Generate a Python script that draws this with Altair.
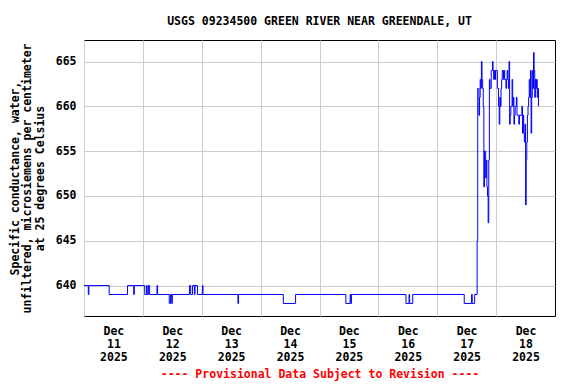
import altair as alt
import pandas as pd

# Change points of the 15-minute series (value holds until the next time)
times = [
    "2025-12-11T00:00", "2025-12-11T01:45", "2025-12-11T02:00", "2025-12-11T10:15",
    "2025-12-11T17:45", "2025-12-11T20:15", "2025-12-11T20:30",
    "2025-12-12T00:45", "2025-12-12T01:30", "2025-12-12T01:45", "2025-12-12T02:15",
    "2025-12-12T02:45", "2025-12-12T05:45", "2025-12-12T06:00", "2025-12-12T10:45",
    "2025-12-12T11:15", "2025-12-12T11:45", "2025-12-12T12:00", "2025-12-12T19:00",
    "2025-12-12T19:30", "2025-12-12T20:15", "2025-12-12T21:00", "2025-12-12T21:15",
    "2025-12-12T22:15", "2025-12-13T00:15", "2025-12-13T00:30", "2025-12-13T14:45",
    "2025-12-13T15:00", "2025-12-14T09:15", "2025-12-14T14:15", "2025-12-15T10:45",
    "2025-12-15T12:30", "2025-12-15T12:45", "2025-12-15T13:00", "2025-12-16T11:15",
    "2025-12-16T12:30", "2025-12-16T12:45", "2025-12-16T14:00", "2025-12-17T11:00",
    "2025-12-17T14:00", "2025-12-17T14:15", "2025-12-17T15:15", "2025-12-17T16:15",
    "2025-12-17T16:30", "2025-12-17T17:00", "2025-12-17T17:15", "2025-12-17T17:30",
    "2025-12-17T17:45", "2025-12-17T18:00", "2025-12-17T18:15", "2025-12-17T18:30",
    "2025-12-17T18:45", "2025-12-17T19:00", "2025-12-17T19:15", "2025-12-17T19:45",
    "2025-12-17T20:00", "2025-12-17T20:15", "2025-12-17T20:30", "2025-12-17T20:45",
    "2025-12-17T21:00", "2025-12-17T21:15", "2025-12-17T21:30", "2025-12-17T22:00",
    "2025-12-17T22:30", "2025-12-17T22:45", "2025-12-17T23:00", "2025-12-17T23:15",
    "2025-12-17T23:30", "2025-12-17T23:45", "2025-12-18T00:30", "2025-12-18T01:00",
    "2025-12-18T01:15", "2025-12-18T01:30", "2025-12-18T01:45", "2025-12-18T02:00",
    "2025-12-18T02:15", "2025-12-18T02:30", "2025-12-18T03:00", "2025-12-18T03:15",
    "2025-12-18T03:30", "2025-12-18T04:00", "2025-12-18T04:15", "2025-12-18T04:30",
    "2025-12-18T04:45", "2025-12-18T05:00", "2025-12-18T05:15", "2025-12-18T05:30",
    "2025-12-18T05:45", "2025-12-18T06:00", "2025-12-18T06:30", "2025-12-18T06:45",
    "2025-12-18T07:00", "2025-12-18T07:15", "2025-12-18T07:30", "2025-12-18T07:45",
    "2025-12-18T08:15", "2025-12-18T08:30", "2025-12-18T09:15", "2025-12-18T09:30",
    "2025-12-18T10:30", "2025-12-18T10:45", "2025-12-18T11:00", "2025-12-18T11:15",
    "2025-12-18T11:30", "2025-12-18T11:45", "2025-12-18T12:00", "2025-12-18T12:15",
    "2025-12-18T12:30", "2025-12-18T12:45", "2025-12-18T13:00", "2025-12-18T13:15",
    "2025-12-18T13:30", "2025-12-18T13:45", "2025-12-18T14:00", "2025-12-18T14:15",
    "2025-12-18T14:30", "2025-12-18T14:45", "2025-12-18T15:00", "2025-12-18T15:15",
    "2025-12-18T15:30", "2025-12-18T15:45", "2025-12-18T16:00", "2025-12-18T16:15",
    "2025-12-18T16:30", "2025-12-18T16:45", "2025-12-18T17:00", "2025-12-18T17:15",
]
values = [
    640, 639, 640, 639,
    640, 639, 640,
    639, 640, 639, 640,
    639, 640, 639, 638,
    639, 638, 639, 640,
    639, 640, 639, 640,
    639, 640, 639, 638,
    639, 638, 639, 638,
    639, 638, 639, 638,
    639, 638, 639, 638,
    639, 638, 639, 645,
    662, 659, 661, 663,
    662, 665, 663, 662,
    660, 651, 655, 652,
    654, 651, 650, 647,
    654, 663, 662, 664,
    665, 664, 663, 664,
    663, 664, 662, 660,
    658, 661, 660, 662,
    663, 664, 663, 664,
    663, 662, 663, 664,
    663, 662, 665, 658,
    659, 660, 663, 660,
    661, 658, 659, 660,
    661, 659, 658, 659,
    660, 657, 659, 657,
    656, 658, 649, 654,
    656, 659, 660, 661,
    663, 661, 664, 657,
    661, 664, 662, 666,
    664, 661, 663, 662,
    663, 661, 662, 660,
]

y_ticks = [640, 645, 650, 655, 660, 665]
day_dates = [11, 12, 13, 14, 15, 16, 17, 18]

title_text = "USGS 09234500 GREEN RIVER NEAR GREENDALE, UT"
y_title = [
    "Specific conductance, water,",
    "unfiltered, microsiemens per centimeter",
    "at 25 degrees Celsius",
]
x_title = "---- Provisional Data Subject to Revision ----"

df = pd.DataFrame({"time": times, "value": values})

FONT = "DejaVu Sans Mono"
FS = 11.5

x_axis = alt.Axis(
    values=[alt.DateTime(year=2025, month=12, date=d) for d in day_dates],
    labelExpr="[timeFormat(datum.value, '%b'), timeFormat(datum.value, '%d'), timeFormat(datum.value, '%Y')]",
    labelOffset=29.4,
    labelFlush=False,
    labelOverlap=False,
    labelPadding=9,
    labelLineHeight=13,
    labelFont=FONT,
    labelFontSize=FS,
    labelFontWeight="bold",
    labelColor="black",
    ticks=False,
    domain=False,
    grid=True,
    gridColor="#cccccc",
    gridWidth=1,
    title=x_title,
    titleColor="red",
    titleFont=FONT,
    titleFontSize=FS,
    titleFontWeight="bold",
    titlePadding=6,
)

y_axis = alt.Axis(
    values=y_ticks,
    labelFont=FONT,
    labelFontSize=FS,
    labelFontWeight="bold",
    labelColor="black",
    labelPadding=8,
    ticks=False,
    domain=False,
    grid=True,
    gridColor="#cccccc",
    gridWidth=1,
    title=y_title,
    titleFont=FONT,
    titleFontSize=FS,
    titleFontWeight="bold",
    titleColor="black",
    titleLineHeight=12.5,
    titlePadding=10,
)

chart = (
    alt.Chart(df)
    .mark_line(interpolate="step-after", color="#0000ff", strokeWidth=1, clip=True)
    .encode(
        x=alt.X(
            "time:T",
            scale=alt.Scale(
                domain=[
                    alt.DateTime(year=2025, month=12, date=11),
                    alt.DateTime(year=2025, month=12, date=19),
                ]
            ),
            axis=x_axis,
        ),
        y=alt.Y(
            "value:Q",
            scale=alt.Scale(domain=[636.6, 667.4], nice=False, zero=False),
            axis=y_axis,
        ),
    )
    .properties(
        width=471,
        height=276,
        autosize=alt.AutoSizeParams(type="none"),
        padding={"left": 76, "top": 32, "right": 13, "bottom": 66},
        title=alt.Title(
            title_text,
            font=FONT,
            fontSize=FS,
            fontWeight="bold",
            color="black",
            anchor="middle",
            frame="group",
            offset=13,
        ),
        background="white",
    )
    .configure_view(stroke="black", strokeWidth=1)
)

chart.save("out.html", embed_options={"renderer": "svg", "actions": False})
